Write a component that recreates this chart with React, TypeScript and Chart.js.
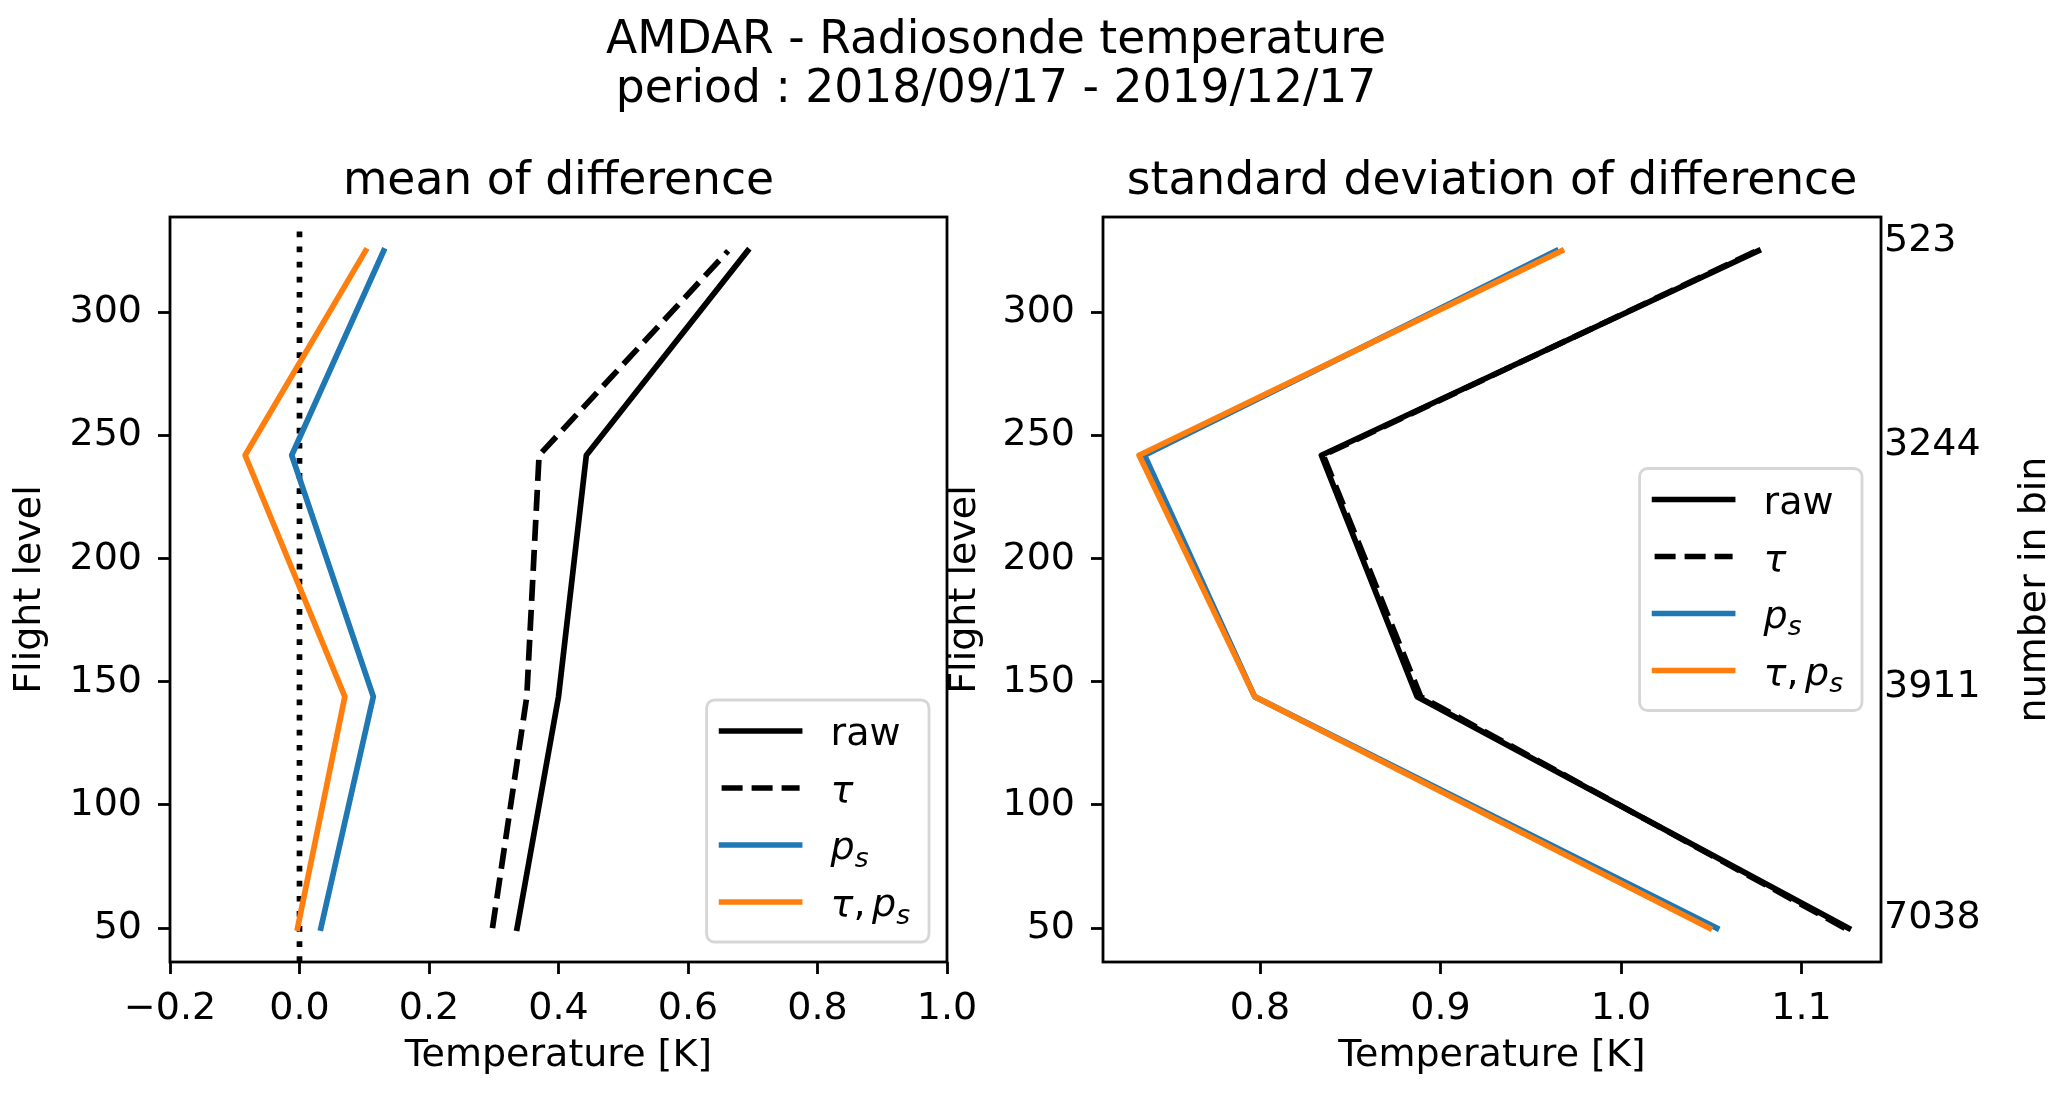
import React, { useEffect, useRef } from 'react';
import { Chart, registerables } from 'chart.js';

Chart.register(...registerables);

const FONT = '"DejaVu Sans", "Liberation Sans", sans-serif';
const FIG_W = 2067;
const FIG_H = 1096;

// ---------------- data ----------------
const flightLevels = [50, 144, 242, 325];

const meanRaw = [0.336, 0.4, 0.443, 0.692];
const meanTau = [0.298, 0.351, 0.37, 0.662];
const meanPs = [0.033, 0.114, -0.012, 0.13];
const meanTauPs = [-0.003, 0.07, -0.084, 0.102];

const stdRaw = [1.126, 0.887, 0.834, 1.076];
const stdTau = [1.124, 0.889, 0.835, 1.075];
const stdPs = [1.053, 0.797, 0.736, 0.964];
const stdTauPs = [1.049, 0.797, 0.733, 0.967];

const binCounts = ['7038', '3911', '3244', '523'];

const seriesLabels = ['raw', 'τ', 'p_s', 'τ,p_s'];
const seriesColors = ['#000000', '#000000', '#1f77b4', '#ff7f0e'];
const seriesDashed = [false, true, false, false];

const zeroLineLevels = [36.25, 334];

const yTicks = [50, 100, 150, 200, 250, 300];
const yRange = [36.25, 338.75];
const xTicksMean = [-0.2, 0.0, 0.2, 0.4, 0.6, 0.8, 1.0];
const xRangeMean = [-0.2, 1.0];
const xTicksStd = [0.8, 0.9, 1.0, 1.1];
const xRangeStd = [0.713, 1.144];

const suptitleLines = ['AMDAR - Radiosonde temperature', 'period : 2018/09/17 - 2019/12/17'];
const subplotTitles = ['mean of difference', 'standard deviation of difference'];

// ---------------- helpers ----------------
const LW = 5.7;
const TICK_SIZE = 38;
const TITLE_SIZE = 45.6;

function fmtTick(v: number) {
  const s = Number(v).toFixed(1);
  return s.startsWith('-') ? '\u2212' + s.slice(1) : s;
}

function drawMath(ctx: CanvasRenderingContext2D, label: string, x: number, y: number, size: number, draw: boolean) {
  const isMath = /[τ_]/.test(label);
  if (!isMath) {
    ctx.font = `${size}px ${FONT}`;
    if (draw) ctx.fillText(label, x, y);
    return ctx.measureText(label).width;
  }
  let cx = x;
  for (let i = 0; i < label.length; i++) {
    const ch = label[i];
    if (ch === '_') {
      const s = label[++i];
      const sub = size * 0.7;
      ctx.font = `italic ${sub}px ${FONT}`;
      if (draw) ctx.fillText(s, cx, y + size * 0.2);
      cx += ctx.measureText(s).width;
      continue;
    }
    if (ch === ',') {
      ctx.font = `${size}px ${FONT}`;
      if (draw) ctx.fillText(ch, cx, y);
      cx += ctx.measureText(ch).width + size * 0.17;
      continue;
    }
    ctx.font = `italic ${size}px ${FONT}`;
    if (draw) ctx.fillText(ch, cx, y);
    cx += ctx.measureText(ch).width;
  }
  return cx - x;
}

const decorPlugin = {
  id: 'decor',
  afterDraw(chart: any, _args: any, opts: any) {
    const { ctx, chartArea: ca } = chart;
    ctx.save();
    ctx.strokeStyle = '#000';
    ctx.lineWidth = 2.8;
    ctx.setLineDash([]);
    ctx.strokeRect(ca.left, ca.top, ca.right - ca.left, ca.bottom - ca.top);

    ctx.fillStyle = '#000';
    ctx.textAlign = 'center';
    ctx.textBaseline = 'alphabetic';
    ctx.font = `${TITLE_SIZE}px ${FONT}`;
    ctx.fillText(opts.title, (ca.left + ca.right) / 2, ca.top - 22.7);

    if (opts.suptitle) {
      opts.suptitle.forEach((line: string, i: number) => {
        ctx.fillText(line, 996, 52.7 + i * 49.6);
      });
    }

    if (opts.counts) {
      ctx.font = `${TICK_SIZE}px ${FONT}`;
      ctx.textAlign = 'left';
      opts.counts.forEach((c: string, i: number) => {
        ctx.fillText(c, ca.right + 3, chart.scales.y.getPixelForValue(flightLevels[i]));
      });
      ctx.translate(2035, (ca.top + ca.bottom) / 2);
      ctx.rotate(-Math.PI / 2);
      ctx.textAlign = 'center';
      ctx.textBaseline = 'middle';
      ctx.fillText('number in bin', 0, 0);
    }
    ctx.restore();
  },
};

const mathLegendPlugin = {
  id: 'mathLegend',
  afterDatasetsDraw(chart: any, _args: any, opts: any) {
    const { ctx, chartArea: ca } = chart;
    const items = chart.data.datasets.filter((d: any) => d.inLegend);
    const rowH = 57;
    ctx.save();
    const textW = Math.max(...items.map((d: any) => drawMath(ctx, d.label, 0, 0, TICK_SIZE, false)));
    const w = 124 + textW + 19;
    const h = 31 + (items.length - 1) * rowH + 40;
    const x = ca.right - opts.right - w;
    const y = opts.loc === 'lower right' ? ca.bottom - opts.bottom - h : (ca.top + ca.bottom) / 2 - h / 2;

    const r = 8;
    ctx.beginPath();
    ctx.moveTo(x + r, y);
    ctx.arcTo(x + w, y, x + w, y + h, r);
    ctx.arcTo(x + w, y + h, x, y + h, r);
    ctx.arcTo(x, y + h, x, y, r);
    ctx.arcTo(x, y, x + w, y, r);
    ctx.closePath();
    ctx.fillStyle = 'rgba(255,255,255,0.8)';
    ctx.fill();
    ctx.strokeStyle = 'rgba(204,204,204,0.8)';
    ctx.lineWidth = 2.8;
    ctx.stroke();

    items.forEach((d: any, i: number) => {
      const cy = y + 31 + i * rowH;
      ctx.beginPath();
      ctx.setLineDash(d.borderDash || []);
      ctx.lineCap = d.borderDash && d.borderDash.length ? 'butt' : 'square';
      ctx.strokeStyle = d.borderColor;
      ctx.lineWidth = LW;
      ctx.moveTo(x + 15, cy);
      ctx.lineTo(x + 93, cy);
      ctx.stroke();
      ctx.setLineDash([]);
      ctx.fillStyle = '#000';
      ctx.textAlign = 'left';
      ctx.textBaseline = 'alphabetic';
      drawMath(ctx, d.label, x + 124, cy + 14, TICK_SIZE, true);
    });
    ctx.restore();
  },
};

function lineDataset(label: string, xs: number[], i: number) {
  const dashed = seriesDashed[i];
  return {
    label,
    data: flightLevels.map((y, k) => ({ x: xs[k], y })),
    borderColor: seriesColors[i],
    backgroundColor: seriesColors[i],
    borderWidth: LW,
    borderDash: dashed ? [21, 9] : [],
    borderCapStyle: dashed ? 'butt' : 'square',
    borderJoinStyle: 'round',
    pointRadius: 0,
    pointHoverRadius: 0,
    showLine: true,
    fill: false,
    tension: 0,
    inLegend: true,
    order: 10 - i,
  };
}

function tickFont() {
  return { family: FONT, size: TICK_SIZE };
}

function buildConfig(kind: 'mean' | 'std') {
  const isMean = kind === 'mean';
  const series = isMean ? [meanRaw, meanTau, meanPs, meanTauPs] : [stdRaw, stdTau, stdPs, stdTauPs];
  const datasets: any[] = series.map((xs, i) => lineDataset(seriesLabels[i], xs, i));
  if (isMean) {
    datasets.push({
      label: 'zero',
      data: zeroLineLevels.map((y) => ({ x: 0, y })),
      borderColor: '#000',
      borderWidth: LW,
      borderDash: [5.7, 9.4],
      borderCapStyle: 'butt',
      pointRadius: 0,
      pointHoverRadius: 0,
      showLine: true,
      fill: false,
      inLegend: false,
      order: 20,
    });
  }
  const xTicks = isMean ? xTicksMean : xTicksStd;
  const xRange = isMean ? xRangeMean : xRangeStd;
  const gridOpts = {
    display: true,
    drawOnChartArea: false,
    drawTicks: true,
    tickLength: 12,
    tickWidth: 2.8,
    tickColor: '#000',
  };
  return {
    type: 'scatter',
    data: { datasets },
    plugins: [decorPlugin, mathLegendPlugin],
    options: {
      responsive: false,
      animation: false,
      devicePixelRatio: 1,
      events: [],
      layout: {
        padding: isMean
          ? { top: 217, right: 1120, bottom: 0, left: 0 }
          : { top: 217, right: 186, bottom: 0, left: 933 },
      },
      scales: {
        x: {
          type: 'linear',
          position: 'bottom',
          min: xRange[0],
          max: xRange[1],
          afterBuildTicks: (s: any) => {
            s.ticks = xTicks.map((v) => ({ value: v }));
          },
          afterFit: (s: any) => {
            s.height = 134;
          },
          ticks: {
            color: '#000',
            font: tickFont(),
            padding: 12,
            maxRotation: 0,
            autoSkip: false,
            callback: (v: any) => fmtTick(v),
          },
          grid: gridOpts,
          border: { display: false },
          title: {
            display: true,
            text: 'Temperature [K]',
            color: '#000',
            font: tickFont(),
            padding: { top: 0, bottom: 17 },
          },
        },
        y: {
          type: 'linear',
          position: 'left',
          min: yRange[0],
          max: yRange[1],
          afterBuildTicks: (s: any) => {
            s.ticks = yTicks.map((v) => ({ value: v }));
          },
          afterFit: (s: any) => {
            s.width = 170;
          },
          ticks: {
            color: '#000',
            font: tickFont(),
            padding: 16,
            autoSkip: false,
            callback: (v: any) => String(v),
          },
          grid: gridOpts,
          border: { display: false },
          title: {
            display: true,
            text: 'Flight level',
            color: '#000',
            font: tickFont(),
            padding: { top: isMean ? 7 : 9, bottom: 0 },
          },
        },
      },
      plugins: {
        legend: { display: false },
        tooltip: { enabled: false },
        decor: {
          title: isMean ? subplotTitles[0] : subplotTitles[1],
          suptitle: isMean ? suptitleLines : null,
          counts: isMean ? null : binCounts,
        },
        mathLegend: isMean ? { loc: 'lower right', right: 18, bottom: 20 } : { loc: 'center right', right: 19 },
      },
    },
  } as any;
}

export default function App() {
  const leftRef = useRef<HTMLCanvasElement>(null);
  const rightRef = useRef<HTMLCanvasElement>(null);

  useEffect(() => {
    const charts = [
      new Chart(leftRef.current as HTMLCanvasElement, buildConfig('mean')),
      new Chart(rightRef.current as HTMLCanvasElement, buildConfig('std')),
    ];
    return () => charts.forEach((c) => c.destroy());
  }, []);

  const canvasStyle: React.CSSProperties = {
    position: 'absolute',
    left: 0,
    top: 0,
    width: FIG_W,
    height: FIG_H,
  };

  return (
    <div style={{ position: 'fixed', left: 0, top: 0, width: FIG_W, height: FIG_H, background: '#fff' }}>
      <canvas ref={leftRef} width={FIG_W} height={FIG_H} style={canvasStyle} />
      <canvas ref={rightRef} width={FIG_W} height={FIG_H} style={canvasStyle} />
    </div>
  );
}
